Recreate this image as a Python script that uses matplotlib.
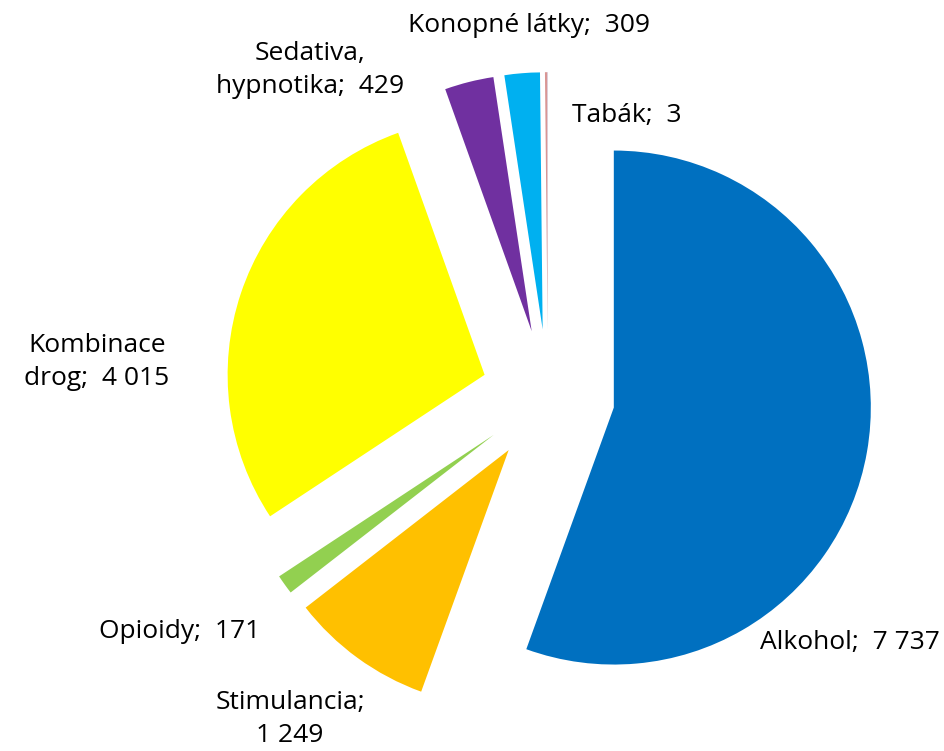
import numpy as np
import matplotlib.pyplot as plt

plt.rcParams['font.family'] = ['Open Sans', 'DejaVu Sans']

labels = ["Alkohol;  7 737", "Stimulancia;\n1 249", "Opioidy;  171", "Kombinace\ndrog;  4 015",
          "Sedativa,\nhypnotika;  429", "Konopné látky;  309", "", "Tabák;  3"]
values = [7737, 1249, 171, 4015, 429, 309, 20, 3]
colors = ["#0070C0", "#FFC000", "#92D050", "#FFFF00", "#7030A0", "#00B0F0", "#D99694", "#B3A2C7"]
# label positions in pixels of the original picture (centre of text)
label_px = [(850, 642), (290, 719), (180, 632), (97, 362), (310, 70), (529, 26), None, (627, 115)]

W, H = 945, 751
cx, cy, R = 548, 396, 257

fig = plt.figure(figsize=(W / 100, H / 100), dpi=100)
ax = fig.add_axes([0, 0, 1, 1])
ax.pie(values, colors=colors, startangle=90, counterclock=False,
       explode=[0.26] * len(values), radius=1, wedgeprops=dict(linewidth=0))
ax.set_xlim(-cx / R, (W - cx) / R)
ax.set_ylim(-(H - cy) / R, cy / R)
ax.axis("off")

for lab, pos in zip(labels, label_px):
    if pos is None or not lab:
        continue
    x = (pos[0] - cx) / R
    y = (cy - pos[1]) / R
    ax.text(x, y, lab, ha="center", va="center", fontsize=19, linespacing=1.45)

fig.savefig("out.png", dpi=100)
